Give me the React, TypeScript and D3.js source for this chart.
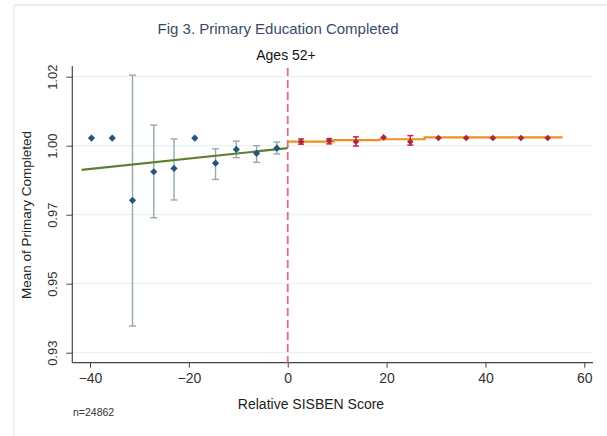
import React, { useRef, useEffect } from 'react';
import * as d3 from 'd3';

// bins left of the cutoff
const leftX = [-39.7, -35.5, -31.4, -27.1, -23.0, -18.8, -14.6, -10.4, -6.3, -2.2];
const leftMean = [1.0, 1.0, 0.9797, 0.989, 0.9901, 1.0, 0.9918, 0.9963, 0.995, 0.9967];
const leftHi = [null, null, 1.0205, 1.0042, 0.9997, null, 0.9965, 0.999, 0.9975, 0.9987];
const leftLo = [null, null, 0.9387, 0.974, 0.9798, null, 0.9865, 0.9936, 0.9921, 0.9948];

// bins right of the cutoff
const rightX = [2.7, 8.4, 13.8, 19.4, 24.8, 30.5, 36.1, 41.5, 47.2, 52.6];
const rightMean = [0.9988, 0.9991, 0.9988, 1.0002, 0.9988, 1.0, 1.0, 1.0, 1.0, 1.0];
const rightHi = [0.9997, 0.9998, 1.0004, null, 1.0008, null, null, null, null, null];
const rightLo = [0.998, 0.9981, 0.9974, null, 0.9977, null, null, null, null, null];

// fitted lines
const fitLeftX = [-41.7, 0];
const fitLeftY = [0.9896, 0.9967];
const fitRightX = [0, 9.3, 18.6, 27.7, 55.6];
const fitRightY = [0.9988, 0.9993, 0.9996, 1.0002, 1.0002];

const xTicks = [-40, -20, 0, 20, 40, 60];
const yTicks = [0.93, 0.9525, 0.975, 0.9975, 1.02];
const yTickLabels = ['0.93', '0.95', '0.97', '1.00', '1.02'];

const W = 607;
const H = 436;

const App = () => {
  const svgRef = useRef(null);

  useEffect(() => {
    draw();
  }, []);

  const draw = () => {
    const svg = d3.select(svgRef.current);
    svg.selectAll('*').remove();

    const font = 'Liberation Sans, Arial, sans-serif';
    const left = 72.3, right = 593, top = 66, bottom = 362.7;

    const x = d3.scaleLinear().domain([-40, 60]).range([90, 584.3]);
    const y = d3.scaleLinear().domain([0.93, 1.02]).range([352.7, 76.7]);

    // outer frame of the graph region
    svg.append('line').attr('x1', 14).attr('x2', W).attr('y1', 5).attr('y2', 5)
      .attr('stroke', '#e6eef0').attr('stroke-width', 2);
    svg.append('line').attr('x1', 14).attr('x2', 14).attr('y1', 5).attr('y2', H)
      .attr('stroke', '#e6eef0').attr('stroke-width', 1.5);

    // titles
    svg.append('text').attr('x', 278).attr('y', 34).attr('text-anchor', 'middle')
      .style('font-family', font).style('font-size', '15px').attr('fill', '#3b4a6b')
      .text('Fig 3. Primary Education Completed');
    svg.append('text').attr('x', 286).attr('y', 60).attr('text-anchor', 'middle')
      .style('font-family', font).style('font-size', '14px').attr('fill', '#111')
      .text('Ages 52+');

    // grid
    svg.append('g').selectAll('line').data(yTicks).enter().append('line')
      .attr('x1', left).attr('x2', right)
      .attr('y1', d => y(d)).attr('y2', d => y(d))
      .attr('stroke', '#e9f1f1').attr('stroke-width', 1.2);

    // y axis
    const gy = svg.append('g').attr('transform', `translate(${left},0)`)
      .call(d3.axisLeft(y).tickValues(yTicks).tickFormat((d, i) => yTickLabels[i]).tickSize(6).tickSizeOuter(0));
    gy.select('.domain').remove();
    gy.append('line').attr('x1', 0).attr('x2', 0).attr('y1', top).attr('y2', bottom)
      .attr('stroke', '#444').attr('stroke-width', 1.2);
    gy.selectAll('.tick line').attr('stroke', '#444');
    gy.selectAll('.tick text')
      .attr('x', 0).attr('y', 0).attr('dy', 0)
      .attr('transform', 'translate(-15,0) rotate(-90)')
      .attr('text-anchor', 'middle')
      .style('font-family', font).style('font-size', '13px').attr('fill', '#333');

    // x axis
    const gx = svg.append('g').attr('transform', `translate(0,${bottom})`)
      .call(d3.axisBottom(x).tickValues(xTicks).tickSize(5).tickSizeOuter(0));
    gx.select('.domain').remove();
    gx.append('line').attr('x1', left).attr('x2', right).attr('y1', 0).attr('y2', 0)
      .attr('stroke', '#444').attr('stroke-width', 1.2);
    gx.selectAll('.tick line').attr('stroke', '#444');
    gx.selectAll('.tick text').attr('y', 10)
      .style('font-family', font).style('font-size', '14px').attr('fill', '#333');

    // axis titles
    svg.append('text').attr('text-anchor', 'middle')
      .attr('transform', `translate(31,${215}) rotate(-90)`)
      .style('font-family', font).style('font-size', '13.5px').attr('fill', '#222')
      .text('Mean of Primary Completed');
    svg.append('text').attr('x', 311).attr('y', 409).attr('text-anchor', 'middle')
      .style('font-family', font).style('font-size', '14px').attr('fill', '#222')
      .text('Relative SISBEN Score');
    svg.append('text').attr('x', 73).attr('y', 416)
      .style('font-family', font).style('font-size', '10.5px').attr('fill', '#333')
      .text('n=24862');

    // cutoff
    svg.append('line').attr('x1', x(0)).attr('x2', x(0)).attr('y1', 68).attr('y2', bottom)
      .attr('stroke', '#de6a8a').attr('stroke-width', 1.8).attr('stroke-dasharray', '8,4');

    const line = d3.line().x(d => x(d[0])).y(d => y(d[1]));

    const leftData = leftX.map((v, i) => ({ x: v, m: leftMean[i], hi: leftHi[i], lo: leftLo[i] }));
    const rightData = rightX.map((v, i) => ({ x: v, m: rightMean[i], hi: rightHi[i], lo: rightLo[i] }));

    const errBars = (data, color, cap, width) => {
      const g = svg.append('g').attr('stroke', color).attr('stroke-width', width);
      data.filter(d => d.hi !== null).forEach(d => {
        g.append('line').attr('x1', x(d.x)).attr('x2', x(d.x)).attr('y1', y(d.hi)).attr('y2', y(d.lo));
        g.append('line').attr('x1', x(d.x) - cap).attr('x2', x(d.x) + cap).attr('y1', y(d.hi)).attr('y2', y(d.hi));
        g.append('line').attr('x1', x(d.x) - cap).attr('x2', x(d.x) + cap).attr('y1', y(d.lo)).attr('y2', y(d.lo));
      });
    };

    errBars(leftData, '#94aca6', 3.5, 1.4);

    // left fit
    svg.append('path').datum(fitLeftX.map((v, i) => [v, fitLeftY[i]]))
      .attr('d', line).attr('fill', 'none').attr('stroke', '#5f7f2e').attr('stroke-width', 2.2);

    // right fit (step)
    svg.append('path').datum(fitRightX.map((v, i) => [v, fitRightY[i]]))
      .attr('d', line.curve(d3.curveStepAfter)).attr('fill', 'none')
      .attr('stroke', '#f0901e').attr('stroke-width', 2.2);

    errBars(rightData, '#d3204e', 3, 1.5);

    const marker = d3.symbol().type(d3.symbolSquare).size(26);

    svg.append('g').selectAll('path').data(leftData).enter().append('path')
      .attr('d', marker)
      .attr('transform', d => `translate(${x(d.x)},${y(d.m)}) rotate(45)`)
      .attr('fill', '#245581');

    svg.append('g').selectAll('path').data(rightData).enter().append('path')
      .attr('d', d3.symbol().type(d3.symbolSquare).size(22))
      .attr('transform', d => `translate(${x(d.x)},${y(d.m)}) rotate(45)`)
      .attr('fill', '#a8283f');
  };

  return (
    <svg ref={svgRef} width={W} height={H}
      style={{ position: 'absolute', left: 0, top: 0, background: '#fff' }} />
  );
};

export default App;
